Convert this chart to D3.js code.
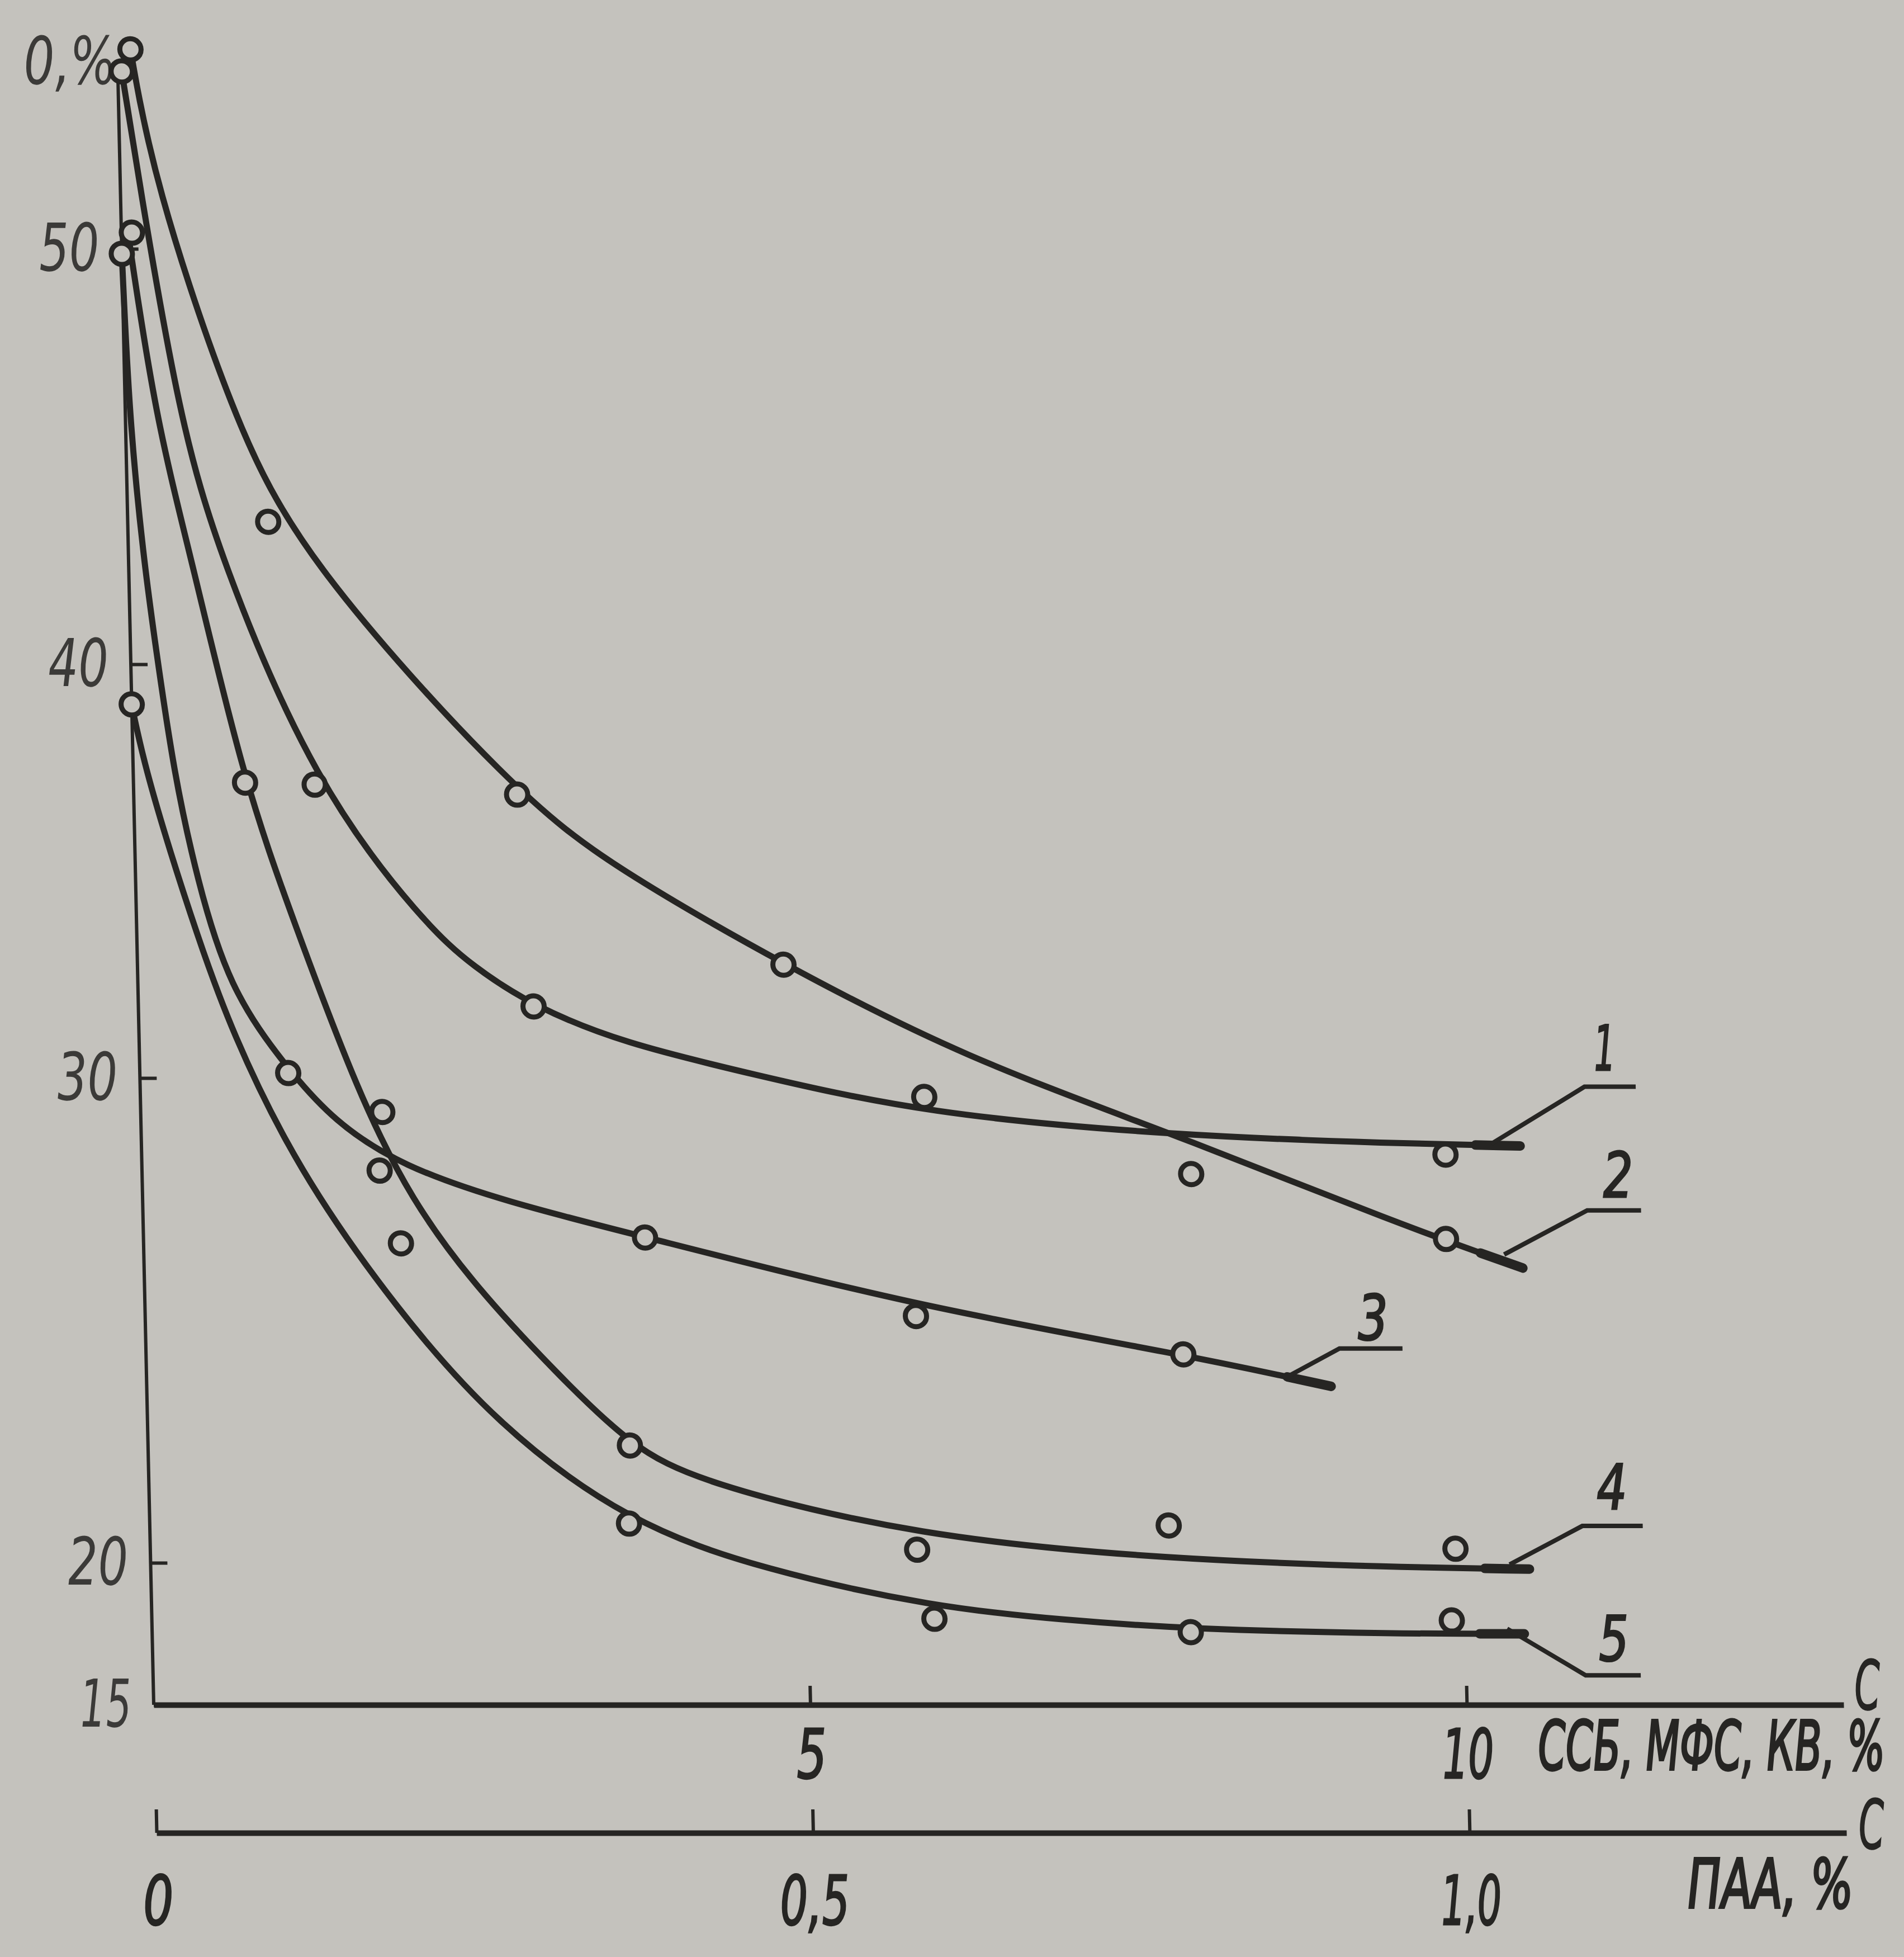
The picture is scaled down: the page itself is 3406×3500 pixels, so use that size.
<!DOCTYPE html>
<html>
<head>
<meta charset="utf-8">
<script src="https://cdn.jsdelivr.net/npm/d3@7"></script>
<style>
  body { margin: 0; background: #c4c2bd; }
  svg { display: block; }
  text { font-family: "DejaVu Sans Condensed", "Liberation Sans Narrow", "DejaVu Sans", sans-serif; font-style: italic; }
</style>
</head>
<body>
<svg id="chart" width="3406" height="3500"></svg>
<script>
// y ticks (θ, %), x ticks (ССБ, МФС, КВ, %) and second x axis (ПАА, %)
const yTicks = [15, 20, 30, 40, 50]
const xTicks = [5, 10]
const paaTicks = [0, 0.5, 1.0]

// smooth curves 1..5, [C, θ]
const line1 = [[0.03, 54.27], [0.14, 51.7], [0.41, 45.9], [0.70, 42.53], [1.38, 37.09], [2.19, 33.73], [2.56, 32.68], [3.01, 31.73], [3.69, 30.84], [4.64, 30.11], [5.97, 29.26], [7.9, 28.81], [9.55, 28.65], [10.5, 28.6]]
const line2 = [[0.1, 54.8], [0.25, 51.7], [0.82, 45.9], [1.33, 42.53], [2.92, 36.85], [3.64, 35.1], [4.92, 32.74], [6.28, 30.49], [7.9, 28.81], [9.55, 27.0], [10.5, 26.08]]
const line3 = [[0, 49.88], [0.03, 45.9], [0.115, 42.53], [0.19, 40.47], [0.31, 37.36], [0.47, 34.78], [0.69, 32.2], [1.12, 30.19], [1.81, 28.09], [3.8, 26.74], [5.87, 25.29], [7.9, 24.3], [9.02, 23.64]]
const line4 = [[0.05, 50.39], [0.23, 45.9], [0.48, 42.53], [0.84, 37.16], [1.2, 33.76], [1.66, 29.67], [2.05, 27.46], [2.52, 25.7], [3.11, 23.95], [3.67, 22.42], [4.19, 21.66], [5.84, 20.54], [7.76, 20.07], [9.49, 19.84], [10.5, 19.78]]
const line5 = [[0, 39.0], [0.08, 37.68], [0.235, 35.82], [0.46, 33.45], [0.70, 31.16], [1.18, 28.13], [1.92, 25.21], [2.65, 22.87], [3.65, 20.81], [4.68, 19.74], [5.96, 18.44], [6.93, 17.99], [7.91, 17.66], [9.48, 17.5], [10.45, 17.5]]

// measured points (open circles)
const pts1 = [[0.03, 54.27], [1.38, 37.09], [3.01, 31.73], [5.97, 29.61], [9.93, 28.42]]
const pts2 = [[0.1, 54.8], [1.07, 43.43], [2.92, 36.85], [4.92, 32.74], [7.99, 28.02], [9.92, 26.68]]
const pts3 = [[0, 49.88], [1.13, 30.12], [1.81, 28.09], [3.82, 26.71], [5.87, 25.09], [7.9, 24.3]]
const pts4 = [[0.08, 50.39], [0.85, 37.14], [1.84, 29.3], [3.67, 22.42], [5.84, 20.27], [7.76, 20.77], [9.94, 20.29]]
const pts5 = [[0, 39.03], [1.96, 26.59], [3.65, 20.81], [5.96, 18.03], [7.91, 17.56], [9.9, 17.97]]

// curve numbers with leader lines: start on curve, elbow, end, label
const curveNames = ['1', '2', '3', '4', '5']
const leaderStart = [[10.28, 28.64], [10.36, 26.36], [8.71, 23.87], [10.35, 19.94], [10.32, 17.68]]
const leaderElbow = [[11.0, 29.82], [11.0, 27.27], [9.09, 24.42], [10.91, 20.76], [10.91, 16.04]]
const leaderEnd = [[11.39, 29.82], [11.41, 27.27], [9.57, 24.42], [11.37, 20.76], [11.33, 16.04]]
const labelAt = [[11.16, 30.73], [11.24, 28.0], [9.35, 25.06], [11.14, 21.57], [11.13, 17.34]]

const lines = [line1, line2, line3, line4, line5]
const points = [pts1, pts2, pts3, pts4, pts5]

const ink = '#262523'
const grey = '#3b3a38'
const paper = '#c4c2bd'

// narrow drafting lettering: glyph widths as they are in the scan
const charW = { '1': 38, ',': 16, '%': 96, ' ': 14 }
function textW(s) {
    return d3.sum(String(s).split(''), c => charW[c] || 54)
}

// squeeze a text horizontally around its own anchor x
function squeeze(sel, width) {
    sel.each(function(d) {
        let node = this
        let w = typeof width === 'function' ? width.call(node, d) : width
        let natural = node.getComputedTextLength()
        if (!natural) return
        let s = w / natural
        let ax = +(node.getAttribute('x') || 0)
        d3.select(node).attr('transform', `translate(${ax},0) scale(${s},1) translate(${-ax},0)`)
    })
}

let svg = d3.select('#chart')

// axes are a bit uneven in the original scan, so the y scale is piecewise
let x = d3.scaleLinear().domain([0, 12.87]).range([275, 3298])
let y = d3.scaleLinear().domain([15, 20, 30, 40, 50]).range([3049, 2795, 1928, 1188, 445])
let xPaa = d3.scaleLinear().domain([0, 1.287]).range([275, 3298])

// photo is slightly sheared: vertical axis leans left towards the top
let k = 0.022
let plot = svg.append('g')
    .attr('transform', `matrix(1,0,${k},1,${-k * y(15)},0)`)

// y axis line
plot.append('line')
    .attr('x1', x(0)).attr('x2', x(0))
    .attr('y1', y(15)).attr('y2', y(54.3))
    .attr('stroke', ink).attr('stroke-width', 6)

let yAxis = plot.append('g')
    .attr('transform', `translate(${x(0)},0)`)
    .call(d3.axisLeft(y).tickValues(yTicks).tickSizeInner(-30).tickSizeOuter(0).tickPadding(40))
yAxis.select('.domain').remove()
yAxis.selectAll('line').attr('stroke', ink).attr('stroke-width', 6)
yAxis.selectAll('text')
    .attr('font-size', 118).attr('dy', '0.33em')
    .attr('fill', grey)
    .call(squeeze, d => textW(d))

plot.append('text')
    .attr('x', x(0) - 2).attr('y', y(54.3) + 25)
    .attr('text-anchor', 'end')
    .attr('font-size', 118)
    .attr('fill', grey)
    .text('0,%')
    .call(squeeze, textW('0,%'))

// main x axis
let xAxis = plot.append('g')
    .attr('transform', `translate(0,${y(15)})`)
    .call(d3.axisBottom(x).tickValues(xTicks).tickSizeInner(-34).tickSizeOuter(0).tickPadding(44))
xAxis.select('.domain').attr('stroke', ink).attr('stroke-width', 10)
xAxis.selectAll('.tick line').attr('stroke', ink).attr('stroke-width', 6)
xAxis.selectAll('.tick text')
    .attr('font-size', 122).attr('fill', ink).attr('stroke', ink).attr('stroke-width', 3)
    .call(squeeze, d => textW(d))

plot.append('text')
    .attr('x', x(12.87) + 20).attr('y', y(15) + 8)
    .attr('font-size', 122).attr('fill', ink).attr('stroke', ink).attr('stroke-width', 2)
    .text('С')
    .call(squeeze, 46)
plot.append('text')
    .attr('x', x(10) + 126).attr('y', y(15) + 116)
    .attr('font-size', 122).attr('fill', ink).attr('stroke', ink).attr('stroke-width', 4)
    .text('ССБ, МФС, КВ, %')
    .call(squeeze, 620)

// second x axis for ПАА
let paaY = y(15) + 229
let paaAxis = plot.append('g')
    .attr('transform', `translate(0,${paaY})`)
    .call(d3.axisBottom(xPaa).tickValues(paaTicks).tickSizeInner(-42).tickSizeOuter(0).tickPadding(77)
        .tickFormat(d => d === 0 ? '0' : d3.format('.1f')(d).replace('.', ',')))
paaAxis.select('.domain').attr('stroke', ink).attr('stroke-width', 10)
paaAxis.selectAll('.tick line').attr('stroke', ink).attr('stroke-width', 6)
paaAxis.selectAll('.tick text')
    .attr('font-size', 122).attr('fill', ink).attr('stroke', ink).attr('stroke-width', 3)
    .call(squeeze, function() { return textW(this.textContent) })

plot.append('text')
    .attr('x', xPaa(1.287) + 22).attr('y', paaY + 28)
    .attr('font-size', 122).attr('fill', ink).attr('stroke', ink).attr('stroke-width', 2)
    .text('С')
    .call(squeeze, 46)
plot.append('text')
    .attr('x', xPaa(1) + 388).attr('y', paaY + 134)
    .attr('font-size', 122).attr('fill', ink).attr('stroke', ink).attr('stroke-width', 4)
    .text('ПАА, %')
    .call(squeeze, 296)

// curves (B-spline smooths the hand-read nodes)
let line = d3.line()
    .x(d => x(d[0]))
    .y(d => y(d[1]))
    .curve(d3.curveBasis)

plot.append('g').selectAll('path')
    .data(lines)
    .join('path')
    .attr('d', line)
    .attr('fill', 'none')
    .attr('stroke', ink)
    .attr('stroke-width', 11)
    .attr('stroke-linecap', 'round')

// the pen stroke gets heavier at the very end of each curve
plot.append('g').selectAll('path')
    .data(lines)
    .join('path')
    .attr('d', line)
    .attr('fill', 'none')
    .attr('stroke', ink)
    .attr('stroke-width', 17)
    .attr('stroke-linecap', 'round')
    .attr('stroke-dasharray', function() {
        let len = this.getTotalLength()
        return `0 ${len - 80} 80`
    })

// leaders + numbers
let leader = d3.line().x(d => x(d[0])).y(d => y(d[1]))
let labels = plot.append('g')
curveNames.forEach((name, i) => {
    labels.append('path')
        .attr('d', leader([leaderStart[i], leaderElbow[i], leaderEnd[i]]))
        .attr('fill', 'none')
        .attr('stroke', ink)
        .attr('stroke-width', 8)
    labels.append('text')
        .attr('x', x(labelAt[i][0])).attr('y', y(labelAt[i][1]) + 40)
        .attr('text-anchor', 'middle')
        .attr('font-size', 112).attr('fill', ink).attr('stroke', ink).attr('stroke-width', 3)
        .text(name)
        .call(squeeze, textW(name))
})

// open circle markers
plot.append('g').selectAll('g')
    .data(points)
    .join('g')
    .selectAll('circle')
    .data(d => d)
    .join('circle')
    .attr('cx', d => x(d[0]))
    .attr('cy', d => y(d[1]))
    .attr('r', 19)
    .attr('fill', paper)
    .attr('stroke', ink)
    .attr('stroke-width', 9)
</script>
</body>
</html>
